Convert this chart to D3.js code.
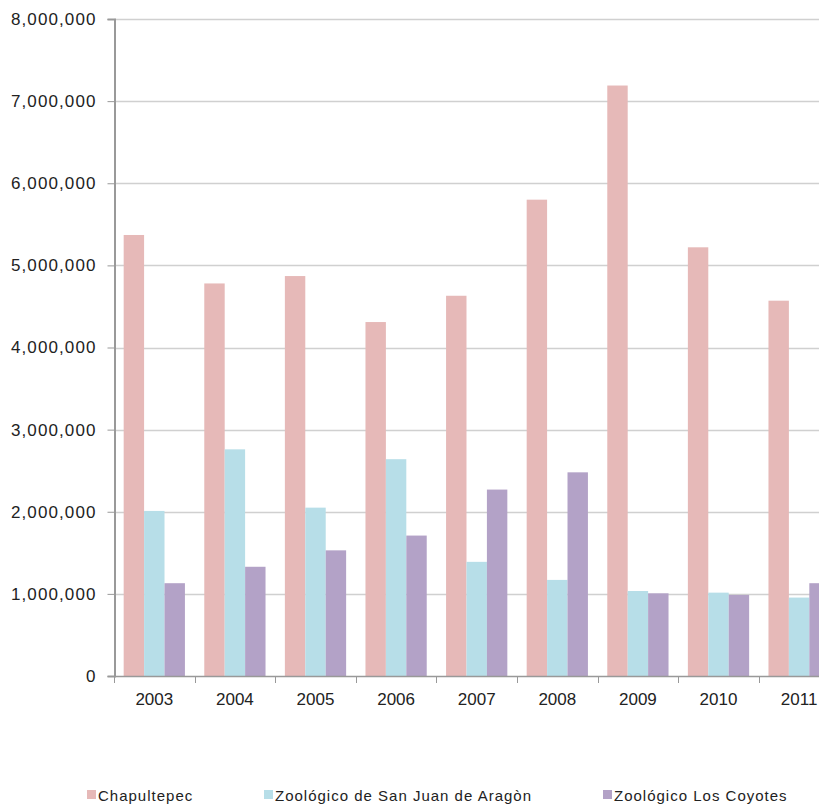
<!DOCTYPE html>
<html>
<head>
<meta charset="utf-8">
<script src="https://cdn.jsdelivr.net/npm/d3@7"></script>
<style>
  html, body { margin: 0; padding: 0; background: #fff; }
  svg { display: block; }
  text { font-family: "Liberation Sans", Arial, sans-serif; fill: #222; }
</style>
</head>
<body>
<div id="chart"></div>
<script>
const years = ["2003","2004","2005","2006","2007","2008","2009","2010","2011"];
const seriesNames = ["Chapultepec","Zoológico de San Juan de Aragòn","Zoológico Los Coyotes"];
const chapultepec = [5370000,4780000,4870000,4310000,4630000,5800000,7190000,5220000,4570000];
const aragon      = [2010000,2760000,2050000,2640000,1390000,1170000,1035000,1015000,955000];
const coyotes     = [1130000,1330000,1530000,1710000,2270000,2480000,1007000,987000,1130000];
const yTicks = [0,1000000,2000000,3000000,4000000,5000000,6000000,7000000,8000000];
const colors = ["#E6B9B8","#B7DEE8","#B3A2C7"];

const seriesValues = [chapultepec, aragon, coyotes];
const W = 819, H = 805;
const plotLeft = 114, plotTop = 19, plotBottom = 676;
const bandW = 80.6;
const plotRight = plotLeft + bandW * years.length;

const svg = d3.select("#chart").append("svg").attr("width", W).attr("height", H);

const x = d3.scaleBand().domain(years).range([plotLeft, plotRight]).paddingInner(0.24).paddingOuter(0.12);
const x1 = d3.scaleBand().domain(d3.range(3)).range([0, x.bandwidth()]);
const y = d3.scaleLinear().domain([0, 8000000]).range([plotBottom, plotTop]);

// gridlines
svg.append("g").selectAll("line").data(yTicks.slice(1)).join("line")
  .attr("x1", plotLeft).attr("x2", W)
  .attr("y1", d => Math.round(y(d)) + 0.5).attr("y2", d => Math.round(y(d)) + 0.5)
  .attr("stroke", "#D0D0D0").attr("stroke-width", 1.3);

// bars
const groups = svg.append("g").selectAll("g").data(years).join("g")
  .attr("transform", d => `translate(${x(d)},0)`);
groups.selectAll("rect").data((d, i) => seriesValues.map((s, k) => ({k, v: s[i]}))).join("rect")
  .attr("x", d => x1(d.k)).attr("width", x1.bandwidth())
  .attr("y", d => y(d.v)).attr("height", d => y(0) - y(d.v))
  .attr("fill", d => colors[d.k]);

// y axis
const yAxis = d3.axisLeft(y).tickValues(yTicks).tickSize(7).tickPadding(11)
  .tickFormat(d3.format(","));
const gy = svg.append("g").attr("transform", `translate(${plotLeft + 0.5},0)`).call(yAxis);
gy.select(".domain").attr("stroke", "#999").attr("stroke-width", 2);
gy.selectAll(".tick line").attr("stroke", "#999");
gy.selectAll("text").attr("font-size", 17).attr("letter-spacing", 1.1)
  .attr("fill", "#222").attr("font-family", "Liberation Sans, Arial, sans-serif");

// x axis (ticks at band boundaries)
const xAxisG = svg.append("g");
xAxisG.append("line").attr("x1", plotLeft).attr("x2", W)
  .attr("y1", plotBottom + 0.5).attr("y2", plotBottom + 0.5)
  .attr("stroke", "#999").attr("stroke-width", 1.5);
xAxisG.selectAll("line.tk").data(d3.range(years.length + 1)).join("line").attr("class", "tk")
  .attr("x1", i => Math.round(plotLeft + i * bandW) + 0.5).attr("x2", i => Math.round(plotLeft + i * bandW) + 0.5)
  .attr("y1", plotBottom).attr("y2", plotBottom + 7)
  .attr("stroke", "#999");
xAxisG.selectAll("text").data(years).join("text")
  .attr("x", d => x(d) + x.bandwidth() / 2).attr("y", 705)
  .attr("text-anchor", "middle").attr("font-size", 17).text(d => d);

// legend
const legendX = [87, 264, 603];
const lg = svg.append("g").selectAll("g").data(seriesNames).join("g")
  .attr("transform", (d, i) => `translate(${legendX[i]},790)`);
lg.append("rect").attr("width", 9).attr("height", 9).attr("fill", (d, i) => colors[i]);
lg.append("text").attr("x", 11).attr("y", 11).attr("font-size", 15)
  .attr("letter-spacing", 1).text(d => d);
</script>
</body>
</html>
